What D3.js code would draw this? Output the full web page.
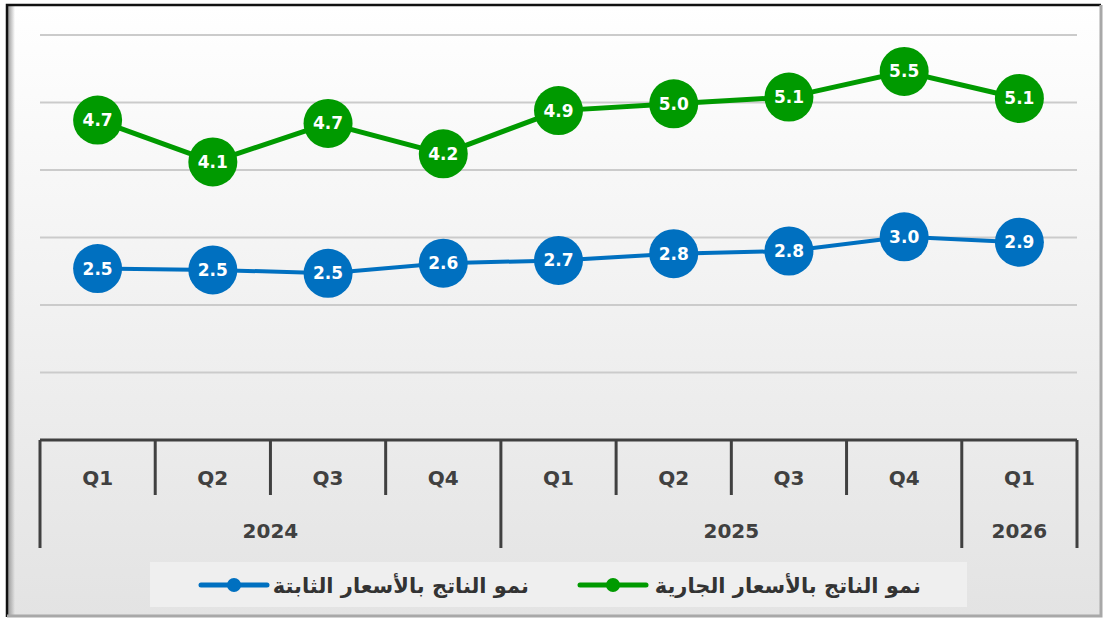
<!DOCTYPE html>
<html>
<head>
<meta charset="utf-8">
<script src="https://cdn.jsdelivr.net/npm/d3@7"></script>
<style>
  body { margin: 0; background: #fff; }
  svg { display: block; }
</style>
</head>
<body>
<div id="chart"></div>
<script>
// data
const quarters = ["Q1", "Q2", "Q3", "Q4", "Q1", "Q2", "Q3", "Q4", "Q1"];
const quarterYears = ["2024", "2024", "2024", "2024", "2025", "2025", "2025", "2025", "2026"];
const currentPrices = [4.74, 4.12, 4.69, 4.24, 4.88, 4.98, 5.08, 5.46, 5.06];
const constantPrices = [2.54, 2.52, 2.47, 2.62, 2.66, 2.76, 2.80, 3.01, 2.93];
const seriesNames = ["نمو الناتج بالأسعار الجارية", "نمو الناتج بالأسعار الثابتة"];
const yTicks = [0, 1, 2, 3, 4, 5, 6];

const width = 1104;
const height = 627;
const margin = { top: 35, right: 27, bottom: 187, left: 40 };

const green = "#009a00";
const blue = "#0070c0";
const axisColor = "#404040";
const fontLatin = "'DejaVu Sans', Verdana, sans-serif";

const svg = d3.select("#chart")
    .append("svg")
    .attr("width", width)
    .attr("height", height);

// background with soft gradient
const defs = svg.append("defs");
const grad = defs.append("linearGradient")
    .attr("id", "bg")
    .attr("x1", 0).attr("y1", 0).attr("x2", 0).attr("y2", 1);
grad.append("stop").attr("offset", "0%").attr("stop-color", "#ffffff");
grad.append("stop").attr("offset", "100%").attr("stop-color", "#e3e3e3");

const shadow = defs.append("linearGradient")
    .attr("id", "shadowL")
    .attr("x1", 0).attr("y1", 0).attr("x2", 1).attr("y2", 0);
shadow.append("stop").attr("offset", "0%").attr("stop-color", "#9a9a9a");
shadow.append("stop").attr("offset", "100%").attr("stop-color", "#9a9a9a").attr("stop-opacity", 0);

svg.append("rect")
    .attr("x", 7).attr("y", 5)
    .attr("width", 1094).attr("height", 611)
    .attr("fill", "url(#bg)");

svg.append("rect")
    .attr("x", 8).attr("y", 6)
    .attr("width", 7).attr("height", 609)
    .attr("fill", "url(#shadowL)");

// frame: dark top/left, grey right/bottom
svg.append("path")
    .attr("d", "M7,617 V5 H1101")
    .attr("fill", "none")
    .attr("stroke", "#111")
    .attr("stroke-width", 2.5);
svg.append("path")
    .attr("d", "M1101,5 V616 H7")
    .attr("fill", "none")
    .attr("stroke", "#a8a8a8")
    .attr("stroke-width", 3);

// scales
const xScale = d3.scaleBand()
    .domain(d3.range(quarters.length))
    .range([margin.left, width - margin.right])
    .padding(0);

const yScale = d3.scaleLinear()
    .domain([0, 6])
    .range([height - margin.bottom, margin.top]);

const cx = i => xScale(i) + xScale.bandwidth() / 2;

// gridlines
svg.append("g")
    .selectAll("line")
    .data(yTicks.filter(d => d > 0))
    .join("line")
    .attr("x1", margin.left)
    .attr("x2", width - margin.right)
    .attr("y1", d => yScale(d))
    .attr("y2", d => yScale(d))
    .attr("stroke", "#cbcbcb")
    .attr("stroke-width", 2);

// category axis (two levels)
const axisY = yScale(0);
const axisG = svg.append("g");

axisG.append("line")
    .attr("x1", margin.left).attr("x2", width - margin.right)
    .attr("y1", axisY).attr("y2", axisY)
    .attr("stroke", axisColor).attr("stroke-width", 3);

// boundaries between quarters
const bounds = d3.range(quarters.length + 1);
axisG.selectAll("line.tick")
    .data(bounds)
    .join("line")
    .attr("class", "tick")
    .attr("x1", i => i < quarters.length ? xScale(i) : width - margin.right)
    .attr("x2", i => i < quarters.length ? xScale(i) : width - margin.right)
    .attr("y1", axisY)
    .attr("y2", i => {
        const isGroup = i === 0 || i === quarters.length || quarterYears[i] !== quarterYears[i - 1];
        return isGroup ? axisY + 108 : axisY + 55;
    })
    .attr("stroke", axisColor)
    .attr("stroke-width", 3);

axisG.selectAll("text.q")
    .data(quarters)
    .join("text")
    .attr("class", "q")
    .attr("x", (d, i) => cx(i))
    .attr("y", axisY + 45)
    .attr("text-anchor", "middle")
    .attr("font-family", fontLatin)
    .attr("font-weight", "bold")
    .attr("font-size", 20)
    .attr("fill", axisColor)
    .text(d => d);

const yearGroups = d3.groups(quarters.map((q, i) => ({ i, year: quarterYears[i] })), d => d.year);
axisG.selectAll("text.year")
    .data(yearGroups)
    .join("text")
    .attr("class", "year")
    .attr("x", ([, items]) => (xScale(items[0].i) + xScale(items[items.length - 1].i) + xScale.bandwidth()) / 2)
    .attr("y", axisY + 98)
    .attr("text-anchor", "middle")
    .attr("font-family", fontLatin)
    .attr("font-weight", "bold")
    .attr("font-size", 20)
    .attr("fill", axisColor)
    .text(([year]) => year);

// series
const series = [
    { name: seriesNames[0], values: currentPrices, color: green, width: 5 },
    { name: seriesNames[1], values: constantPrices, color: blue, width: 4 }
];

const line = d3.line()
    .x((d, i) => cx(i))
    .y(d => yScale(d));

series.forEach(s => {
    const g = svg.append("g");
    g.append("path")
        .datum(s.values)
        .attr("fill", "none")
        .attr("stroke", s.color)
        .attr("stroke-width", s.width)
        .attr("d", line);
    g.selectAll("circle")
        .data(s.values)
        .join("circle")
        .attr("cx", (d, i) => cx(i))
        .attr("cy", d => yScale(d))
        .attr("r", 24.5)
        .attr("fill", s.color);
    g.selectAll("text")
        .data(s.values)
        .join("text")
        .attr("x", (d, i) => cx(i))
        .attr("y", d => yScale(d) + 6)
        .attr("text-anchor", "middle")
        .attr("font-family", fontLatin)
        .attr("font-weight", "bold")
        .attr("font-size", 17)
        .attr("fill", "#fff")
        .text(d => d3.format(".1f")(d));
});

// legend
const legend = svg.append("g");
legend.append("rect")
    .attr("x", 150).attr("y", 562)
    .attr("width", 817).attr("height", 45)
    .attr("fill", "#efefef");

const legendItems = [
    { name: seriesNames[0], color: green, textRight: 921, lineX: 580 },
    { name: seriesNames[1], color: blue, textRight: 529, lineX: 201 }
];

legendItems.forEach(it => {
    legend.append("line")
        .attr("x1", it.lineX).attr("x2", it.lineX + 66)
        .attr("y1", 585).attr("y2", 585)
        .attr("stroke", it.color).attr("stroke-width", 5)
        .attr("stroke-linecap", "round");
    legend.append("circle")
        .attr("cx", it.lineX + 33).attr("cy", 585)
        .attr("r", 7)
        .attr("fill", it.color);
    legend.append("text")
        .attr("x", it.textRight)
        .attr("y", 593)
        .attr("direction", "rtl")
        .attr("text-anchor", "start")
        .attr("font-family", "'DejaVu Sans', 'Noto Sans', sans-serif")
        .attr("font-weight", "bold")
        .attr("font-size", 21)
        .attr("fill", "#333")
        .text(it.name);
});
</script>
</body>
</html>
